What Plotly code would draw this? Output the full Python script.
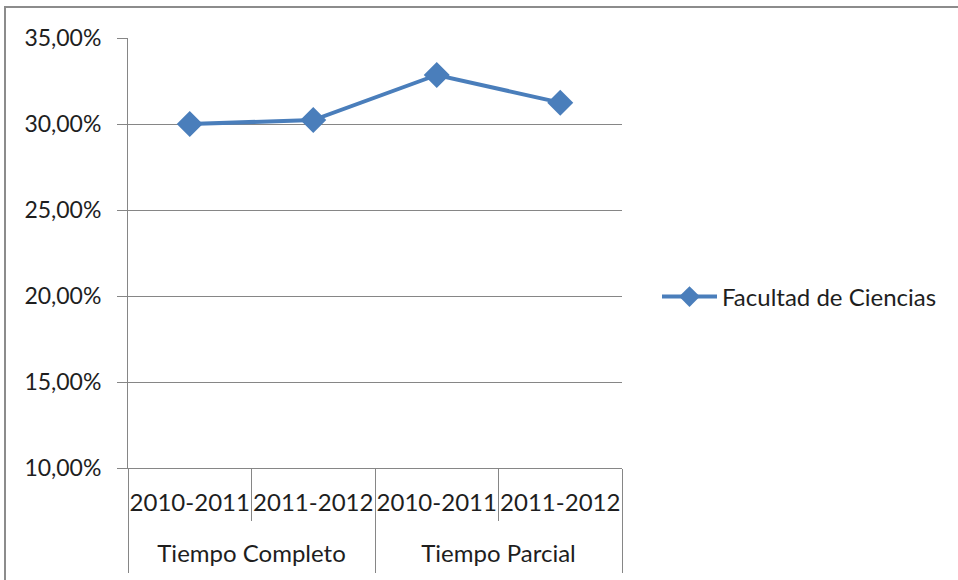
import plotly.graph_objects as go

groups = ["Tiempo Completo", "Tiempo Completo", "Tiempo Parcial", "Tiempo Parcial"]
years = ["2010-2011", "2011-2012", "2010-2011", "2011-2012"]
values = [0.3000, 0.3023, 0.3285, 0.3124]
series_name = "Facultad de Ciencias"
y_ticks = [0.10, 0.15, 0.20, 0.25, 0.30, 0.35]

# category positions derived from the data
pos = list(range(len(years)))
group_names = list(dict.fromkeys(groups))
group_centers = [sum(p for p, g in zip(pos, groups) if g == n) / groups.count(n) for n in group_names]
inner_bounds = [p + 0.5 for p in pos[:-1] if groups[p] == groups[p + 1]]
outer_bounds = [-0.5] + [p + 0.5 for p in pos[:-1] if groups[p] != groups[p + 1]] + [pos[-1] + 0.5]

blue = "#4a7ebb"
grid = "#868686"
txt = "#1e1e1e"
font_family = "Lato, 'Open Sans', sans-serif"

fig = go.Figure()
fig.add_trace(go.Scatter(
    x=pos, y=values, name=series_name,
    mode="lines+markers",
    line=dict(color=blue, width=4),
    marker=dict(symbol="diamond", size=20, color=blue),
))
# invisible trace to activate the group-label axis
fig.add_trace(go.Scatter(x=pos, y=values, xaxis="x2", mode="none",
                         showlegend=False, hoverinfo="skip"))

W, H = 958, 580
L, R, T, B = 128, 622, 38, 468
pw, ph = R - L, B - T

def px(x):
    return (x - L) / pw

def py(y):
    return (B - y) / ph

xr = [pos[0] - 0.5, pos[-1] + 0.5]

fig.update_layout(
    template="none",
    width=W, height=H,
    margin=dict(l=L, r=W - R, t=T, b=H - B, pad=0, autoexpand=False),
    paper_bgcolor="white", plot_bgcolor="white",
    separators=",.",
    font=dict(family=font_family, size=24, color=txt),
    showlegend=True,
    legend=dict(x=px(657), xanchor="left", y=py(297), yanchor="middle",
                font=dict(size=24, color=txt), bgcolor="rgba(0,0,0,0)",
                itemwidth=55),
    xaxis=dict(
        automargin=False,
        range=xr, tickmode="array", tickvals=pos, ticktext=years,
        showline=True, linecolor=grid, linewidth=1,
        ticks="", ticklabelstandoff=13,
        minor=dict(tickmode="array", tickvals=inner_bounds, ticks="outside",
                   ticklen=52, tickcolor=grid, tickwidth=1, showgrid=False),
        showgrid=False, zeroline=False,
        tickfont=dict(size=24, color=txt),
    ),
    xaxis2=dict(
        automargin=False,
        range=xr, overlaying="x", side="bottom", anchor="y",
        tickmode="array", tickvals=group_centers, ticktext=group_names,
        showline=False, ticks="", ticklabelstandoff=69,
        minor=dict(tickmode="array", tickvals=outer_bounds, ticks="outside",
                   ticklen=104, tickcolor=grid, tickwidth=1, showgrid=False),
        showgrid=False, zeroline=False,
        tickfont=dict(size=24, color=txt),
    ),
    yaxis=dict(
        automargin=False,
        range=[0.10, 0.35], tickvals=y_ticks, tickformat=".2%",
        showgrid=True, gridcolor=grid, gridwidth=1,
        showline=True, linecolor=grid, linewidth=1,
        ticks="outside", ticklen=10, tickcolor=grid,
        zeroline=False,
        tickfont=dict(size=23, color=txt),
        ticklabelstandoff=11,
    ),
    shapes=[dict(type="rect", xref="paper", yref="paper",
                 x0=px(5), x1=px(965), y0=py(600), y1=py(7),
                 line=dict(color="#8c8c8c", width=2), fillcolor="rgba(0,0,0,0)",
                 layer="below")],
)

fig.write_html("out.html", config={"displayModeBar": False},
               post_script="document.body.style.margin='0';document.body.style.overflow='hidden';")
